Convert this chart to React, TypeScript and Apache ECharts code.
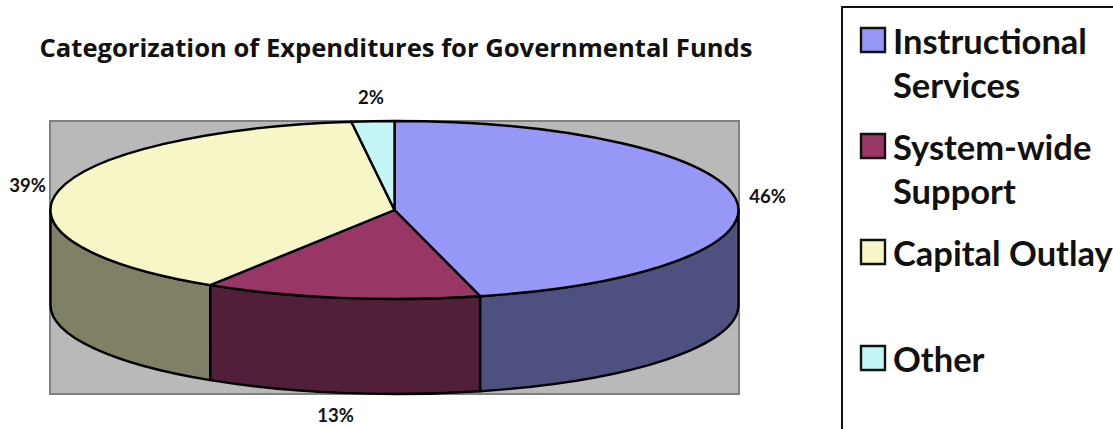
import React, { useEffect, useRef } from "react";
import * as echarts from "echarts";

const titleText = "Categorization of Expenditures for Governmental Funds";
const categories = ["Instructional Services", "System-wide Support", "Capital Outlay", "Other"];
const legendLines = [["Instructional", "Services"], ["System-wide", "Support"], ["Capital Outlay"], ["Other"]];
const shares = [46, 13, 39, 2];
const topColors = ["#9797F7", "#983665", "#F6F6C6", "#C5F6F6"];
const wallColors = ["#4E5080", "#521F3A", "#808067", "#658080"];

const FONT = "Lato, 'Open Sans', sans-serif";
const TITLE_FONT = "'Open Sans', Lato, sans-serif";
const CX = 394.5;
const CY = 210;
const RX = 344;
const RY = 89;
const DEPTH = 95;
const total = shares.reduce((a, b) => a + b, 0);

const project = (deg: number, dy = 0, rx = RX, ry = RY) => {
  const a = (deg * Math.PI) / 180;
  return [CX + rx * Math.sin(a), CY - ry * Math.cos(a) + dy];
};
const pt = (p: number[]) => `${p[0].toFixed(2)} ${p[1].toFixed(2)}`;

function topPath(a0: number, a1: number) {
  const large = a1 - a0 > 180 ? 1 : 0;
  return `M${CX} ${CY}L${pt(project(a0))}A${RX} ${RY} 0 ${large} 1 ${pt(project(a1))}Z`;
}

function wallPath(a0: number, a1: number) {
  const large = a1 - a0 > 180 ? 1 : 0;
  return (
    `M${pt(project(a0))}A${RX} ${RY} 0 ${large} 1 ${pt(project(a1))}` +
    `L${pt(project(a1, DEPTH))}A${RX} ${RY} 0 ${large} 0 ${pt(project(a0, DEPTH))}Z`
  );
}

function renderSlice(params: any, api: any) {
  const i = params.dataIndex;
  const before = shares.slice(0, i).reduce((a, b) => a + b, 0);
  const a0 = (before / total) * 360;
  const a1 = a0 + (api.value(0) / total) * 360;
  const line = { stroke: "#000", lineWidth: 2.4, lineJoin: "round" };
  const children: any[] = [];

  // The rim is only visible across the front half of the disc.
  const w0 = Math.max(a0, 90);
  const w1 = Math.min(a1, 270);
  if (w1 > w0) {
    children.push({
      type: "path",
      shape: { pathData: wallPath(w0, w1) },
      style: { fill: wallColors[i], ...line },
    });
  }
  children.push({
    type: "path",
    shape: { pathData: topPath(a0, a1) },
    style: { fill: topColors[i], ...line },
    z2: 5,
  });

  // Percent labels sit on a larger ellipse, pushed below the rim on the front side.
  const mid = (a0 + a1) / 2;
  const front = Math.cos((mid * Math.PI) / 180) < 0;
  const [lx, ly] = project(mid, front ? DEPTH - 2 : 0, RX + 32, RY + 24);
  children.push({
    type: "text",
    x: lx,
    y: ly,
    z2: 10,
    style: {
      text: `${api.value(0)}%`,
      font: `bold 18.5px ${FONT}`,
      fill: "#111",
      align: "center",
      verticalAlign: "middle",
    },
  });
  return { type: "group", children };
}

function legendGraphics() {
  const swatchTops = [28, 134, 240, 346];
  const els: any[] = [
    { type: "rect", shape: { x: 842, y: 7, width: 420, height: 520 }, style: { fill: "#fff", stroke: "#111", lineWidth: 2 } },
  ];
  legendLines.forEach((lines, i) => {
    els.push({
      type: "rect",
      shape: { x: 861, y: swatchTops[i], width: 24, height: 24 },
      style: { fill: topColors[i], stroke: "#111", lineWidth: 2.4 },
    });
    lines.forEach((t, j) => {
      els.push({
        type: "text",
        x: 893,
        y: swatchTops[i] + 12.5 + j * 44,
        style: { text: t, font: `bold 34.5px ${FONT}`, fill: "#111", verticalAlign: "middle" },
      });
    });
  });
  return els;
}

export default function App() {
  const ref = useRef<HTMLDivElement>(null);
  useEffect(() => {
    if (!ref.current) return;
    const chart = echarts.init(ref.current, undefined, { renderer: "svg" });
    chart.setOption({
      animation: false,
      backgroundColor: "#fff",
      title: {
        text: titleText,
        left: 391,
        top: 29,
        textAlign: "center",
        textStyle: { fontFamily: TITLE_FONT, fontWeight: "bold", fontSize: 25.6, color: "#111" },
      },
      graphic: [
        {
          type: "rect",
          shape: { x: 50, y: 121, width: 689, height: 273 },
          style: { fill: "#B9B9B9", stroke: "#808080", lineWidth: 2 },
        },
        ...legendGraphics(),
      ],
      series: [
        {
          type: "custom",
          coordinateSystem: "none",
          renderItem: renderSlice,
          data: shares.map((v, i) => ({ name: categories[i], value: [v] })),
        },
      ],
    });
    return () => chart.dispose();
  }, []);
  return <div ref={ref} style={{ position: "absolute", left: 0, top: 0, width: 1113, height: 429 }} />;
}
